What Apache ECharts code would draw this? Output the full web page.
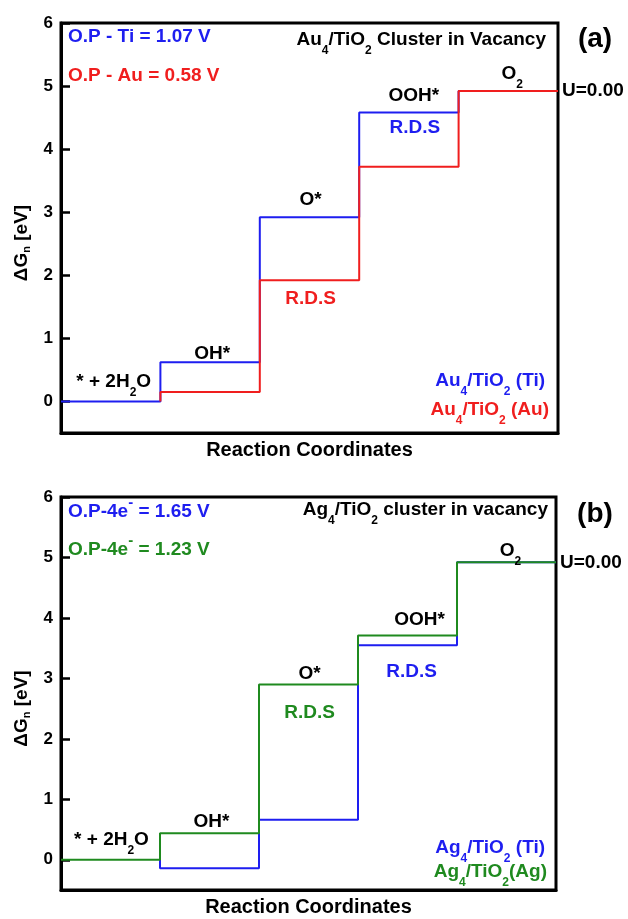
<!DOCTYPE html>
<html>
<head>
<meta charset="utf-8">
<script src="https://cdn.jsdelivr.net/npm/echarts@6/dist/echarts.min.js"></script>
<style>
  html, body { margin: 0; padding: 0; background: #fff; }
  #chart { width: 628px; height: 919px; }
</style>
</head>
<body>
<div id="chart"></div>
<script>
// intermediates along the reaction coordinate (one unit of x per step)
const stages = ["* + 2H{sub|2}O", "OH*", "O*", "OOH*", "O{sub|2}"];
const yTicks = [0, 1, 2, 3, 4, 5, 6];

// (a) Au4/TiO2 cluster in vacancy, free energy of each intermediate [eV]
const auTiLevels = [0, 0.62, 2.92, 4.58, 4.92];
const auAuLevels = [0, 0.15, 1.92, 3.72, 4.92];
// (b) Ag4/TiO2 cluster in vacancy
const agTiLevels = [0, -0.14, 0.66, 3.55, 4.92];
const agAgLevels = [0, 0.44, 2.90, 3.71, 4.92];

const FONT = '"Liberation Sans", Arial, sans-serif';
const BLUE = "#1e1ef0";
const RED = "#f01e1e";
const GREEN = "#1f8a1f";

const rich = {
  sub: { fontSize: 12, fontWeight: "bold", fontFamily: FONT, padding: [22, 0, 0, 0] },
  sup: { fontSize: 15, fontWeight: "bold", fontFamily: FONT, padding: [0, 0, 18, 0] },
};

// step:'start' -> point [k, v] closes the level drawn between k-1 and k
function stepData(levels, fromStart) {
  const pts = levels.map((v, i) => [i + 1, v]);
  return fromStart ? [[0, levels[0]]].concat(pts) : pts;
}

function axisPair(i) {
  const x = {
    gridIndex: i, type: "value", min: 0, max: 5,
    axisLine: { show: true, onZero: false, lineStyle: { color: "#000", width: 3 } },
    axisTick: { show: false }, axisLabel: { show: false }, splitLine: { show: false },
    name: "Reaction Coordinates", nameLocation: "middle", nameGap: 7,
    nameTextStyle: { fontSize: 20, fontWeight: "bold", fontFamily: FONT, color: "#000" },
  };
  const y = {
    gridIndex: i, type: "value", min: -0.5, max: 6,
    axisLine: { show: true, onZero: false, lineStyle: { color: "#000", width: 3 } },
    axisTick: { show: true, inside: true, length: 9, customValues: yTicks,
      lineStyle: { color: "#000", width: 2.5 } },
    axisLabel: { customValues: yTicks, fontSize: 17, fontWeight: "bold",
      fontFamily: FONT, color: "#000", margin: 8 },
    splitLine: { show: false },
    name: "ΔG{sub|n} [eV]", nameLocation: "middle", nameGap: 28,
    nameTextStyle: {
      fontSize: 19, fontWeight: "bold", fontFamily: FONT, color: "#000",
      padding: [0, 30, 0, 0],
      rich: { sub: { fontSize: 11, fontWeight: "bold", fontFamily: FONT, padding: [10, 0, 0, 0] } },
    },
  };
  return [x, y];
}

// text labels above / below the levels
function labelSeries(i, items) {
  return {
    type: "scatter", xAxisIndex: i, yAxisIndex: i, symbolSize: 0, silent: true, z: 5,
    itemStyle: { opacity: 1 },
    label: {
      show: true, position: "inside", formatter: "{b}", opacity: 1,
      fontSize: 19, fontWeight: "bold", fontFamily: FONT, color: "#000", rich: rich,
    },
    data: items,
  };
}

function stageItems(a, b, shifts) {
  return stages.map((s, k) => ({
    name: s, value: [k + 0.5, Math.max(a[k], b[k])],
    label: { offset: shifts[k] },
  }));
}

function rds(level, k, color, shift) {
  return { name: "R.D.S", value: [k + 0.5, level[k]], label: { offset: shift, color: color } };
}

function stepLine(i, levels, fromStart, color, z, withEnd) {
  const s = {
    type: "line", xAxisIndex: i, yAxisIndex: i, step: "start",
    symbol: "none", z: z, silent: true,
    lineStyle: { color: color, width: 2 },
    data: stepData(levels, fromStart),
  };
  if (withEnd) {
    s.endLabel = { show: true, formatter: "U=0.00", color: "#000", fontSize: 19,
      fontWeight: "bold", fontFamily: FONT, distance: 4 };
  }
  return s;
}

function txt(text, x, y, color, align, size) {
  return {
    type: "text", x: x, y: y, silent: true, z: 10,
    style: {
      text: text, fill: color, fontSize: size || 19, fontWeight: "bold", fontFamily: FONT,
      textAlign: align || "left", textVerticalAlign: "middle", rich: rich,
    },
  };
}

const axA = axisPair(0);
const axB = axisPair(1);

const option = {
  animation: false,
  backgroundColor: "#fff",
  grid: [
    { left: 61, top: 23, width: 497, height: 410, show: true, borderColor: "#000",
      borderWidth: 3, outerBoundsMode: "none" },
    { left: 61, top: 497, width: 495, height: 393, show: true, borderColor: "#000",
      borderWidth: 3, outerBoundsMode: "none" },
  ],
  xAxis: [axA[0], axB[0]],
  yAxis: [axA[1], axB[1]],
  series: [
    stepLine(0, auTiLevels, true, BLUE, 2, false),
    stepLine(0, auAuLevels, false, RED, 3, true),
    labelSeries(0, stageItems(auTiLevels, auAuLevels,
      [[3, -20], [2, -9], [1, -18], [5, -17], [4, -17]]).concat([
      rds(auTiLevels, 3, BLUE, [6, 15]),
      rds(auAuLevels, 2, RED, [1, 18]),
    ])),
    stepLine(1, agTiLevels, false, BLUE, 2, false),
    stepLine(1, agAgLevels, true, GREEN, 3, true),
    labelSeries(1, stageItems(agTiLevels, agAgLevels,
      [[1, -20], [2, -11], [1, -11], [12, -16], [4, -12]]).concat([
      rds(agAgLevels, 2, GREEN, [1, 28]),
      rds(agTiLevels, 3, BLUE, [4, 27]),
    ])),
  ],
  graphic: [
    txt("O.P - Ti = 1.07 V", 68, 37, BLUE),
    txt("O.P - Au = 0.58 V", 68, 76, RED),
    txt("Au{sub|4}/TiO{sub|2} Cluster in Vacancy", 546, 40, "#000", "right"),
    txt("(a)", 595, 39, "#000", "center", 28),
    txt("Au{sub|4}/TiO{sub|2} (Ti)", 545, 381, BLUE, "right"),
    txt("Au{sub|4}/TiO{sub|2} (Au)", 549, 410, RED, "right"),
    txt("O.P-4e{sup|-} = 1.65 V", 68, 512, BLUE),
    txt("O.P-4e{sup|-} = 1.23 V", 68, 550, GREEN),
    txt("Ag{sub|4}/TiO{sub|2} cluster in vacancy", 548, 510, "#000", "right"),
    txt("(b)", 595, 514, "#000", "center", 28),
    txt("Ag{sub|4}/TiO{sub|2} (Ti)", 545, 848, BLUE, "right"),
    txt("Ag{sub|4}/TiO{sub|2}(Ag)", 547, 872, GREEN, "right"),
  ],
};

echarts.init(document.getElementById("chart"), null, { renderer: "canvas" }).setOption(option);
</script>
</body>
</html>
